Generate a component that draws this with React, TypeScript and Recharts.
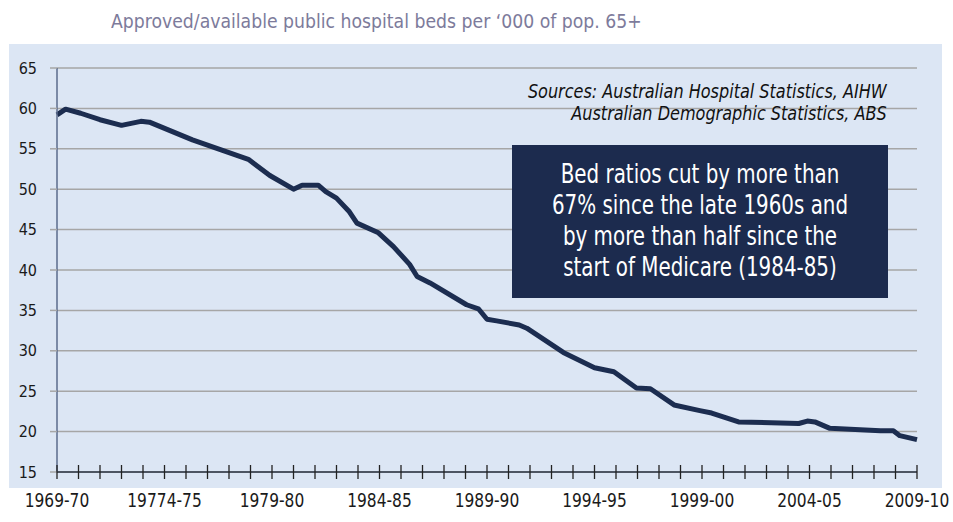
import { CartesianGrid, Line, LineChart, XAxis, YAxis } from "recharts";

// position along the axis, in years after 1969-70 (at each kink)
const yearPos = [
  0, 0.4, 1.1, 2.0, 3.0, 3.9, 4.3, 6.3, 7.7, 8.9, 9.9, 11.0, 11.4, 12.15, 12.5, 13.0, 13.6, 13.95, 14.95, 15.65,
  16.4, 16.75, 17.35, 19.05, 19.6, 20.0, 20.45, 21.5, 21.85, 23.55, 25.0, 25.9, 26.95, 27.6, 28.7, 29.9, 30.45,
  31.7, 34.5, 34.9, 35.25, 35.95, 38.3, 38.9, 39.2, 40,
];
const bedsPer1000 = [
  59.2, 59.9, 59.4, 58.6, 57.9, 58.4, 58.3, 56.1, 54.8, 53.7, 51.7, 50.0, 50.5, 50.5, 49.7, 48.9, 47.2, 45.8, 44.6, 42.9,
  40.7, 39.2, 38.4, 35.7, 35.2, 33.9, 33.7, 33.2, 32.8, 29.8, 27.9, 27.4, 25.4, 25.3, 23.3, 22.6, 22.3,
  21.2, 21.0, 21.3, 21.2, 20.4, 20.1, 20.1, 19.5, 19.0,
];
const xTickLabels = ["1969-70", "19774-75", "1979-80", "1984-85", "1989-90", "1994-95", "1999-00", "2004-05", "2009-10"];
const yTicks = [15, 20, 25, 30, 35, 40, 45, 50, 55, 60, 65];
const xTicks = Array.from({ length: 41 }, (_, i) => i);

const data = yearPos.map((t, i) => ({ t, beds: bedsPer1000[i] }));

const FONT = "'Liberation Sans Narrow', 'DejaVu Sans Condensed', 'Roboto Condensed', Roboto, sans-serif";

function XTick({ x, y, payload }: any) {
  const v = payload.value as number;
  const label = v % 5 === 0 ? xTickLabels[v / 5] : null;
  return (
    <g>
      <line x1={x} x2={x} y1={y - 7} y2={y + 7} stroke="#222" strokeWidth={1.3} />
      {label && (
        <text
          transform={`translate(${x},${y + 28}) scale(0.86,1)`}
          dy="0.36em"
          textAnchor="middle"
          fontSize={20}
          fill="#1a1a1a"
          fontFamily={FONT}
        >
          {label}
        </text>
      )}
    </g>
  );
}

export default function App() {
  return (
    <div style={{ position: "absolute", left: 0, top: 0, width: 953, height: 522, background: "#fff", fontFamily: FONT }}>
      <div
        style={{
          position: "absolute",
          left: 111,
          top: 9,
          fontSize: 20,
          color: "#7d7b9b",
          whiteSpace: "nowrap",
          transform: "scaleX(0.96)",
          transformOrigin: "left center",
        }}
      >
        Approved/available public hospital beds per ‘000 of pop. 65+
      </div>
      <div style={{ position: "absolute", left: 9, top: 44, width: 933, height: 444, background: "#dce6f4" }} />
      <div style={{ position: "absolute", left: 0, top: 0 }}>
        <LineChart width={953} height={522} data={data} margin={{ top: 68, right: 36, left: 0, bottom: 0 }}>
          <CartesianGrid vertical={false} stroke="#a6a6a6" strokeWidth={1.5} />
          <XAxis
            dataKey="t"
            type="number"
            domain={[0, 40]}
            ticks={xTicks}
            interval={0}
            height={50}
            tickSize={0}
            tickMargin={0}
            tickLine={false}
            axisLine={{ stroke: "#2b3446", strokeWidth: 1.5 }}
            tick={<XTick />}
          />
          <YAxis
            type="number"
            domain={[15, 65]}
            ticks={yTicks}
            width={57}
            tickSize={7}
            tickMargin={13}
            axisLine={{ stroke: "#5b6b8c", strokeWidth: 1.5 }}
            tickLine={{ stroke: "#a6a6a6", strokeWidth: 1.5 }}
            tick={{ fontSize: 16, fill: "#1a1a1a", fontFamily: FONT }}
          />
          <Line
            type="linear"
            dataKey="beds"
            stroke="#1c2d50"
            strokeWidth={5}
            strokeLinejoin="round"
            dot={false}
            isAnimationActive={false}
          />
        </LineChart>
      </div>
      <div
        style={{
          position: "absolute",
          right: 953 - 887,
          top: 80,
          textAlign: "right",
          fontStyle: "italic",
          fontSize: 19,
          lineHeight: "22px",
          color: "#111",
          whiteSpace: "nowrap",
          transform: "scaleX(0.94)",
          transformOrigin: "right center",
        }}
      >
        Sources: Australian Hospital Statistics, AIHW
        <br />
        Australian Demographic Statistics, ABS
      </div>
      <div
        style={{
          position: "absolute",
          left: 512,
          top: 145,
          width: 376,
          height: 153,
          background: "#1c2b4e",
          color: "#fff",
          fontSize: 26,
          lineHeight: "31px",
          textAlign: "center",
          boxSizing: "border-box",
          paddingTop: 14,
        }}
      >
        <div style={{ transform: "scaleX(0.85)", transformOrigin: "center", whiteSpace: "nowrap" }}>
          Bed ratios cut by more than
          <br />
          67% since the late 1960s and
          <br />
          by more than half since the
          <br />
          start of Medicare (1984-85)
        </div>
      </div>
    </div>
  );
}
